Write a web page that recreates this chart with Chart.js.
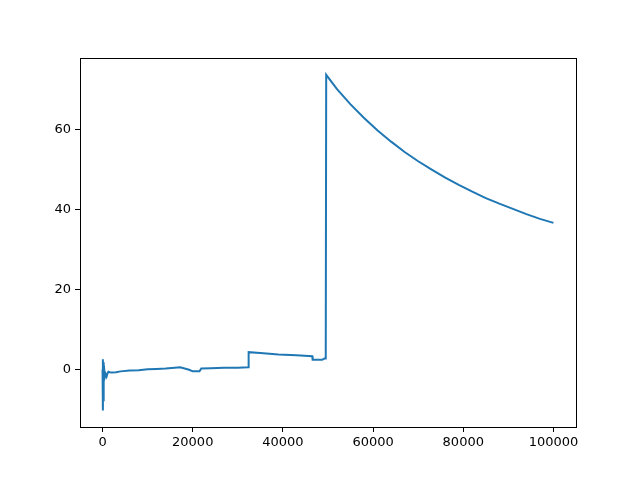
<!DOCTYPE html>
<html>
<head>
<meta charset="utf-8">
<script src="https://cdn.jsdelivr.net/npm/chart.js@4/dist/chart.umd.min.js"></script>
<style>
  html, body { margin: 0; padding: 0; background: #fff; }
  #wrap { width: 640px; height: 480px; }
</style>
</head>
<body>
<div id="wrap"><canvas id="myChart" width="640" height="480"></canvas></div>
<script>
// valores
const xs = [0, 50, 100, 150, 200, 250, 300, 400, 500, 700, 900, 1100, 1300, 1600, 2000, 3000, 4000, 6000, 8000, 10000,
  12000, 14000, 16000, 17200, 18200, 19200, 20000, 21500, 21900, 24000, 27000, 30000, 32300, 32400, 35000, 39000,
  43000, 46500, 46600, 48700, 49200, 49500, 49600, 52000, 55000, 58000, 61000, 64000, 67000, 70000, 73000, 76000,
  79000, 82000, 85000, 88000, 91000, 94000, 97000, 100000];
const ys = [0, 2.5, -10.3, 1.8, -8, 0.5, -1.2, -0.5, -2.0, -1.2, -1.8, -1.0, -0.6, -0.7, -0.8, -0.7, -0.5, -0.3, -0.2, 0.0,
  0.1, 0.2, 0.4, 0.5, 0.2, -0.1, -0.5, -0.5, 0.2, 0.3, 0.4, 0.4, 0.5, 4.3, 4.1, 3.7,
  3.5, 3.3, 2.4, 2.4, 2.7, 2.7, 73.6, 70.0, 66.2, 62.8, 59.7, 56.9, 54.3, 52.0, 49.9, 47.9,
  46.1, 44.4, 42.8, 41.4, 40.1, 38.8, 37.6, 36.6];
const xTicks = [0, 20000, 40000, 60000, 80000, 100000];
const yTicks = [0, 20, 40, 60];

const points = xs.map((x, i) => ({ x: x, y: ys[i] }));

// moldura da área do gráfico
const frame = {
  id: 'frame',
  afterDraw(chart) {
    const a = chart.chartArea;
    const c = chart.ctx;
    c.save();
    c.strokeStyle = '#000';
    c.lineWidth = 1;
    c.strokeRect(Math.round(a.left) + 0.5, Math.round(a.top) + 0.5, Math.round(a.right - a.left), Math.round(a.bottom - a.top));
    c.restore();
  }
};

const tickFont = { family: 'DejaVu Sans', size: 13 };

const ctx = document.getElementById('myChart').getContext('2d');
const myChart = new Chart(ctx, {
  type: 'scatter',
  data: {
    datasets: [{
      data: points,
      showLine: true,
      borderColor: '#1f77b4',
      borderWidth: 2,
      pointRadius: 0,
      tension: 0
    }]
  },
  options: {
    responsive: false,
    animation: false,
    layout: { padding: { top: 58, right: 64, left: 0, bottom: 0 } },
    plugins: { legend: { display: false }, tooltip: { enabled: false } },
    scales: {
      x: {
        type: 'linear',
        min: -5000,
        max: 105000,
        afterBuildTicks: s => { s.ticks = xTicks.map(v => ({ value: v })); },
        afterFit: s => { s.height = 53; },
        grid: { drawOnChartArea: false, drawTicks: true, tickLength: 5, color: '#000' },
        border: { display: true, color: '#000' },
        ticks: { color: '#000', font: tickFont, padding: 3, maxRotation: 0, callback: v => String(v) }
      },
      y: {
        type: 'linear',
        min: -14.4,
        max: 77.8,
        afterBuildTicks: s => { s.ticks = yTicks.map(v => ({ value: v })); },
        afterFit: s => { s.width = 80; },
        grid: { drawOnChartArea: false, drawTicks: true, tickLength: 5, color: '#000' },
        border: { display: true, color: '#000' },
        ticks: { color: '#000', font: tickFont, padding: 4, callback: v => String(v) }
      }
    }
  },
  plugins: [frame]
});
</script>
</body>
</html>
